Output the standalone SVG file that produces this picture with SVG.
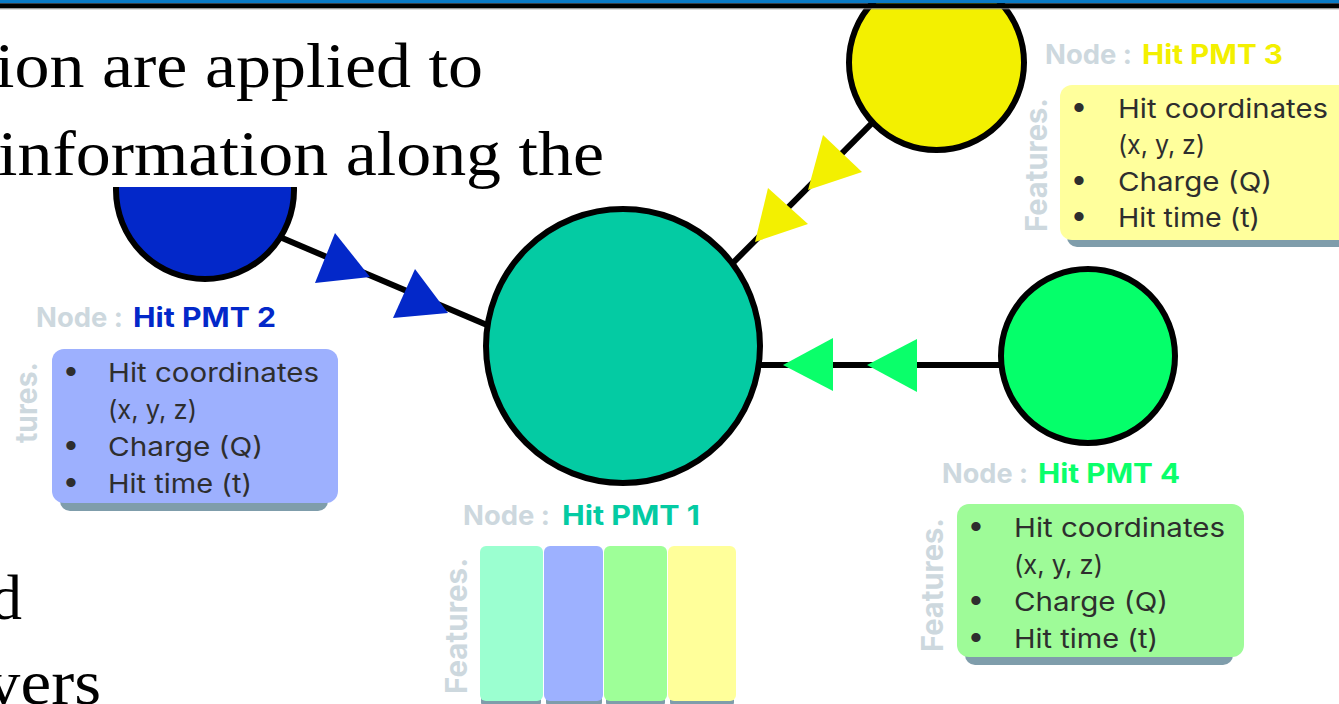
<svg xmlns="http://www.w3.org/2000/svg" width="1339" height="704" viewBox="0 0 1339 704">
<style>
.slide{font-family:"Liberation Serif","Times New Roman",serif;font-size:64px;fill:#000}
.lbl{font-family:Inter,"Liberation Sans",sans-serif;font-weight:700;font-size:27px}
.grey{fill:#CDD8DE}
.feat{font-family:Inter,"Liberation Sans",sans-serif;font-weight:700;font-size:30px;fill:#CDD8DE}
.item{font-family:Inter,"Liberation Sans",sans-serif;font-size:26px;fill:#2E2E2E}
.blt{font-family:"Liberation Sans",sans-serif;font-size:34px;fill:#2E2E2E}
.edge{stroke:#000;stroke-width:6;fill:none}
.node{stroke:#000;stroke-width:6}
.shadow{fill:#7F9DAB}
</style>
<defs>
<clipPath id="cutTop"><rect x="0" y="187" width="400" height="200"/></clipPath>
</defs>
<rect width="1339" height="704" fill="#fff"/>

<g id="slide-text">
<text class="slide" x="-5" y="87" textLength="488" lengthAdjust="spacingAndGlyphs">ion are applied to</text>
<text class="slide" x="-2" y="175" textLength="606" lengthAdjust="spacingAndGlyphs">information along the</text>
<text class="slide" x="22" y="619" text-anchor="end">d</text>
<text class="slide" x="-14" y="704" textLength="115" lengthAdjust="spacingAndGlyphs">yers</text>
</g>

<g id="connectors">
<line class="edge" x1="250" y1="224.4" x2="520" y2="339"/>
<line class="edge" x1="900" y1="94.8" x2="710" y2="286"/>
<line class="edge" x1="740" y1="365" x2="1010" y2="365"/>
<polygon fill="#0328C9" points="335,233 315,283 370,277"/>
<polygon fill="#0328C9" points="415,269 393,318 448,313"/>
<polygon fill="#F3F000" points="823,135 862,172 808,190"/>
<polygon fill="#F3F000" points="768,188 808,224 755,242"/>
<polygon fill="#0AFF6A" points="783,365 833,338 833,391"/>
<polygon fill="#0AFF6A" points="867,365 917,339 917,392"/>
</g>

<g id="node-pmt1">
<circle class="node" cx="623" cy="346" r="137" fill="#04CBA3"/>
<text class="lbl grey" x="463" y="525" textLength="87" lengthAdjust="spacingAndGlyphs">Node :</text>
<text class="lbl" y="525" fill="#04CBA3" x="562" textLength="138" lengthAdjust="spacingAndGlyphs">Hit PMT 1</text>
<text class="feat" transform="translate(467,694) rotate(-90)" textLength="136" lengthAdjust="spacingAndGlyphs">Features.</text>
<rect class="shadow" x="481" y="696" width="60" height="10" rx="4"/>
<rect class="shadow" x="546" y="696" width="56" height="10" rx="4"/>
<rect class="shadow" x="606" y="696" width="59" height="10" rx="4"/>
<rect class="shadow" x="670" y="696" width="64" height="10" rx="4"/>
<rect x="480" y="546" width="63" height="155" rx="6" fill="#9BFFD0"/>
<rect x="544" y="546" width="59" height="155" rx="6" fill="#9DB1FF"/>
<rect x="604" y="546" width="63" height="155" rx="6" fill="#9EFF98"/>
<rect x="668" y="546" width="68" height="155" rx="6" fill="#FFFF9A"/>
</g>

<g id="node-pmt2">
<circle class="node" cx="205" cy="190" r="89" fill="#0328C9" clip-path="url(#cutTop)"/>
<text class="lbl grey" x="36" y="327" textLength="87" lengthAdjust="spacingAndGlyphs">Node :</text>
<text class="lbl" x="133" y="327" fill="#0328C9" textLength="143" lengthAdjust="spacingAndGlyphs">Hit PMT 2</text>
<text class="feat" transform="translate(37,443) rotate(-90)" textLength="81" lengthAdjust="spacingAndGlyphs">tures.</text>
<rect class="shadow" x="60" y="360" width="268" height="151" rx="10"/>
<rect x="52" y="349" width="286" height="154" rx="12" fill="#9DB0FE"/>
<text class="blt" x="65" y="383">•</text>
<text class="item" x="108" y="382" textLength="211" lengthAdjust="spacingAndGlyphs">Hit coordinates</text>
<text class="item" x="108" y="419" textLength="89" lengthAdjust="spacingAndGlyphs">(x, y, z)</text>
<text class="blt" x="65" y="457">•</text>
<text class="item" x="108" y="456" textLength="155" lengthAdjust="spacingAndGlyphs">Charge (Q)</text>
<text class="blt" x="65" y="494">•</text>
<text class="item" x="108" y="493" textLength="144" lengthAdjust="spacingAndGlyphs">Hit time (t)</text>
</g>

<g id="node-pmt3">
<circle class="node" cx="936.5" cy="62.5" r="87.5" fill="#F3F000"/>
<text class="lbl grey" x="1045" y="64" textLength="87" lengthAdjust="spacingAndGlyphs">Node :</text>
<text class="lbl" x="1142" y="64" fill="#F3F000" textLength="141" lengthAdjust="spacingAndGlyphs">Hit PMT 3</text>
<text class="feat" transform="translate(1047,232) rotate(-90)" textLength="134" lengthAdjust="spacingAndGlyphs">Features.</text>
<rect class="shadow" x="1067" y="96" width="290" height="151" rx="10"/>
<rect x="1060" y="85" width="295" height="155" rx="12" fill="#FFFF9C"/>
<text class="blt" x="1073" y="119">•</text>
<text class="item" x="1118" y="118" textLength="210" lengthAdjust="spacingAndGlyphs">Hit coordinates</text>
<text class="item" x="1118" y="154" textLength="87" lengthAdjust="spacingAndGlyphs">(x, y, z)</text>
<text class="blt" x="1073" y="192">•</text>
<text class="item" x="1118" y="191" textLength="154" lengthAdjust="spacingAndGlyphs">Charge (Q)</text>
<text class="blt" x="1073" y="228">•</text>
<text class="item" x="1118" y="227" textLength="142" lengthAdjust="spacingAndGlyphs">Hit time (t)</text>
</g>

<g id="node-pmt4">
<circle class="node" cx="1088" cy="356" r="87" fill="#05FF6A"/>
<text class="lbl grey" x="942" y="483" textLength="86" lengthAdjust="spacingAndGlyphs">Node :</text>
<text class="lbl" x="1038" y="483" fill="#0AFF6A" textLength="142" lengthAdjust="spacingAndGlyphs">Hit PMT 4</text>
<text class="feat" transform="translate(943,652) rotate(-90)" textLength="134" lengthAdjust="spacingAndGlyphs">Features.</text>
<rect class="shadow" x="965" y="515" width="268" height="150" rx="10"/>
<rect x="957" y="504" width="287" height="153" rx="12" fill="#9EFB98"/>
<text class="blt" x="970" y="538">•</text>
<text class="item" x="1014" y="537" textLength="211" lengthAdjust="spacingAndGlyphs">Hit coordinates</text>
<text class="item" x="1014" y="574" textLength="89" lengthAdjust="spacingAndGlyphs">(x, y, z)</text>
<text class="blt" x="970" y="612">•</text>
<text class="item" x="1014" y="611" textLength="154" lengthAdjust="spacingAndGlyphs">Charge (Q)</text>
<text class="blt" x="970" y="649">•</text>
<text class="item" x="1014" y="648" textLength="144" lengthAdjust="spacingAndGlyphs">Hit time (t)</text>
</g>

<g id="top-bar">
<rect x="0" y="0" width="1339" height="3.3" fill="#0A7AC6"/>
<rect x="0" y="3.3" width="1339" height="5" fill="#000"/>
<rect x="0" y="8.3" width="1339" height="1" fill="#8A8A8A"/>
</g>
</svg>
